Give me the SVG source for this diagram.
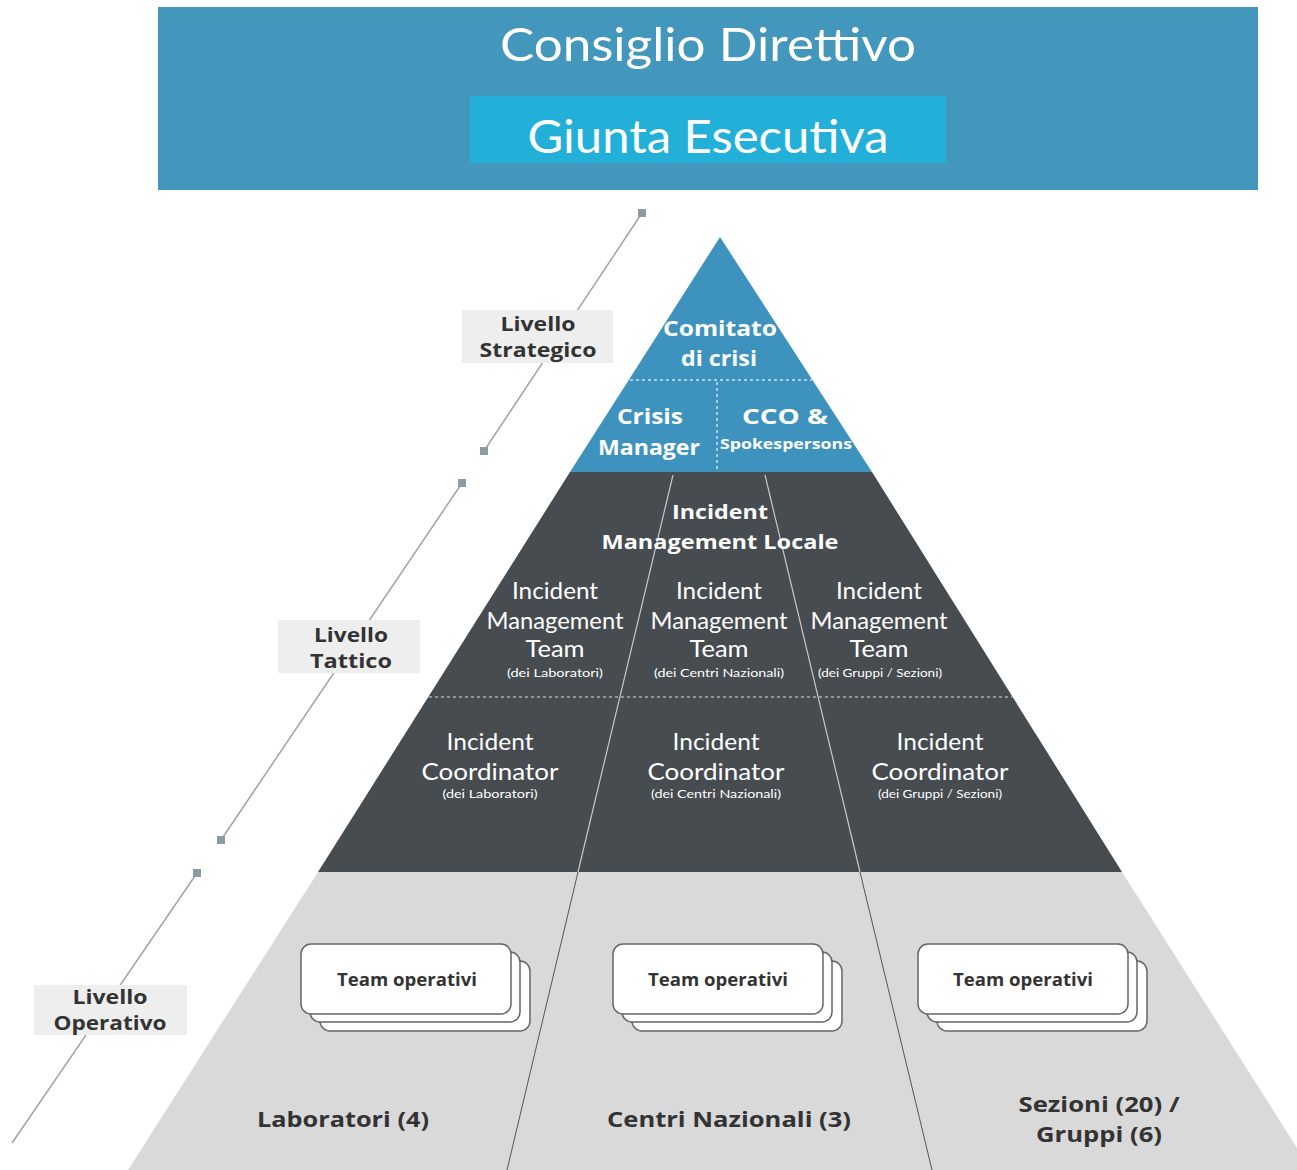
<svg xmlns="http://www.w3.org/2000/svg" width="1297" height="1170" viewBox="0 0 1297 1170">
<defs>
<style>
.w{fill:#ffffff;font-family:Lato,"Open Sans","DejaVu Sans",sans-serif;text-anchor:middle}
.b{font-family:"Open Sans",Lato,"DejaVu Sans",sans-serif;font-weight:bold}
.d{fill:#333333;font-family:"Open Sans",Lato,"DejaVu Sans",sans-serif;text-anchor:middle;font-weight:bold}
.lvl{fill:#eeeeee}
.sq{fill:#8a9ba3}
.card{fill:#ffffff;stroke:#666666;stroke-width:1.5}
.dash{stroke:#c9e3ef;stroke-width:1.5;stroke-dasharray:3 3;fill:none}
.dashd{stroke:#a8adb0;stroke-width:1.5;stroke-dasharray:3 3;fill:none}
</style>
</defs>
<rect width="1297" height="1170" fill="#ffffff"/>
<g id="header">
<rect x="158" y="7" width="1100" height="183" fill="#4396bc"/>
<text class="w" x="708" y="61" font-size="46" textLength="416" lengthAdjust="spacingAndGlyphs">Consiglio Direttivo</text>
</g>
<g id="giunta">
<rect x="470" y="96" width="476" height="67" fill="#22b0d8"/>
<text class="w" x="708" y="153" font-size="47" textLength="361" lengthAdjust="spacingAndGlyphs">Giunta Esecutiva</text>
</g>
<g id="pyramid">
<polygon points="720,237 570,472 872,472" fill="#3d93bd"/>
<polygon points="570,472 872,472 1122,872 318,872" fill="#464c50"/>
<polygon points="318,872 1122,872 1311,1170 128,1170" fill="#d9d9d9"/>
<line class="dash" x1="630" y1="380" x2="812" y2="380"/>
<line class="dash" x1="717" y1="382" x2="717" y2="472"/>
<line class="dashd" x1="429" y1="697" x2="1012" y2="697"/>
</g>
<g id="connectors">
<line x1="673" y1="475" x2="578" y2="872" stroke="#c8c8c8" stroke-width="1.2"/>
<line x1="765" y1="475" x2="860" y2="872" stroke="#c8c8c8" stroke-width="1.2"/>
<line x1="578" y1="872" x2="507" y2="1170" stroke="#555555" stroke-width="1"/>
<line x1="860" y1="872" x2="932" y2="1170" stroke="#555555" stroke-width="1"/>
<line x1="642" y1="213" x2="484" y2="451" stroke="#9aa5aa" stroke-width="1.5"/>
<line x1="462" y1="483" x2="221" y2="840" stroke="#9aa5aa" stroke-width="1.5"/>
<line x1="197" y1="873" x2="12" y2="1143" stroke="#9aa5aa" stroke-width="1.5"/>
<rect class="sq" x="638" y="209" width="8" height="8"/>
<rect class="sq" x="480" y="447" width="8" height="8"/>
<rect class="sq" x="458" y="479" width="8" height="8"/>
<rect class="sq" x="217" y="836" width="8" height="8"/>
<rect class="sq" x="193" y="869" width="8" height="8"/>
</g>
<g id="livello-strategico">
<rect class="lvl" x="462" y="310" width="151" height="53"/>
<text class="d" x="538" y="331" font-size="20" textLength="75" lengthAdjust="spacingAndGlyphs">Livello</text>
<text class="d" x="538" y="357" font-size="20" textLength="117" lengthAdjust="spacingAndGlyphs">Strategico</text>
</g>
<g id="livello-tattico">
<rect class="lvl" x="278" y="620" width="142" height="53"/>
<text class="d" x="351" y="642" font-size="20" textLength="74" lengthAdjust="spacingAndGlyphs">Livello</text>
<text class="d" x="351" y="668" font-size="20" textLength="82" lengthAdjust="spacingAndGlyphs">Tattico</text>
</g>
<g id="livello-operativo">
<rect class="lvl" x="34" y="985" width="153" height="50"/>
<text class="d" x="110" y="1004" font-size="20" textLength="75" lengthAdjust="spacingAndGlyphs">Livello</text>
<text class="d" x="110" y="1030" font-size="20" textLength="113" lengthAdjust="spacingAndGlyphs">Operativo</text>
</g>
<g id="comitato">
<text class="w b" x="720" y="336" font-size="21" textLength="114" lengthAdjust="spacingAndGlyphs">Comitato</text>
<text class="w b" x="719" y="366" font-size="21" textLength="76" lengthAdjust="spacingAndGlyphs">di crisi</text>
</g>
<g id="crisis-manager">
<text class="w b" x="650" y="424" font-size="21" textLength="66" lengthAdjust="spacingAndGlyphs">Crisis</text>
<text class="w b" x="649" y="455" font-size="21" textLength="102" lengthAdjust="spacingAndGlyphs">Manager</text>
</g>
<g id="cco">
<text class="w b" x="785" y="424" font-size="22" textLength="86" lengthAdjust="spacingAndGlyphs">CCO &amp;</text>
<text class="w b" x="786" y="449" font-size="15" textLength="132" lengthAdjust="spacingAndGlyphs">Spokespersons</text>
</g>
<g id="iml">
<text class="w b" x="720" y="519" font-size="20" textLength="96" lengthAdjust="spacingAndGlyphs">Incident</text>
<text class="w b" x="720" y="549" font-size="20" textLength="237" lengthAdjust="spacingAndGlyphs">Management Locale</text>
</g>
<g id="imt-lab">
<text class="w" x="555" y="599" font-size="23" textLength="86" lengthAdjust="spacingAndGlyphs">Incident</text>
<text class="w" x="555" y="629" font-size="23" textLength="137" lengthAdjust="spacingAndGlyphs">Management</text>
<text class="w" x="555" y="657" font-size="23" textLength="59" lengthAdjust="spacingAndGlyphs">Team</text>
<text class="w" x="555" y="677" font-size="11" textLength="96" lengthAdjust="spacingAndGlyphs">(dei Laboratori)</text>
</g>
<g id="imt-cn">
<text class="w" x="719" y="599" font-size="23" textLength="86" lengthAdjust="spacingAndGlyphs">Incident</text>
<text class="w" x="719" y="629" font-size="23" textLength="137" lengthAdjust="spacingAndGlyphs">Management</text>
<text class="w" x="719" y="657" font-size="23" textLength="59" lengthAdjust="spacingAndGlyphs">Team</text>
<text class="w" x="719" y="677" font-size="11" textLength="130" lengthAdjust="spacingAndGlyphs">(dei Centri Nazionali)</text>
</g>
<g id="imt-gs">
<text class="w" x="879" y="599" font-size="23" textLength="86" lengthAdjust="spacingAndGlyphs">Incident</text>
<text class="w" x="879" y="629" font-size="23" textLength="137" lengthAdjust="spacingAndGlyphs">Management</text>
<text class="w" x="879" y="657" font-size="23" textLength="59" lengthAdjust="spacingAndGlyphs">Team</text>
<text class="w" x="880" y="677" font-size="11" textLength="124" lengthAdjust="spacingAndGlyphs">(dei Gruppi / Sezioni)</text>
</g>
<g id="ic-lab">
<text class="w" x="490" y="750" font-size="23" textLength="87" lengthAdjust="spacingAndGlyphs">Incident</text>
<text class="w" x="490" y="780" font-size="23" textLength="137" lengthAdjust="spacingAndGlyphs">Coordinator</text>
<text class="w" x="490" y="798" font-size="11" textLength="95" lengthAdjust="spacingAndGlyphs">(dei Laboratori)</text>
</g>
<g id="ic-cn">
<text class="w" x="716" y="750" font-size="23" textLength="87" lengthAdjust="spacingAndGlyphs">Incident</text>
<text class="w" x="716" y="780" font-size="23" textLength="137" lengthAdjust="spacingAndGlyphs">Coordinator</text>
<text class="w" x="716" y="798" font-size="11" textLength="130" lengthAdjust="spacingAndGlyphs">(dei Centri Nazionali)</text>
</g>
<g id="ic-gs">
<text class="w" x="940" y="750" font-size="23" textLength="87" lengthAdjust="spacingAndGlyphs">Incident</text>
<text class="w" x="940" y="780" font-size="23" textLength="137" lengthAdjust="spacingAndGlyphs">Coordinator</text>
<text class="w" x="940" y="798" font-size="11" textLength="124" lengthAdjust="spacingAndGlyphs">(dei Gruppi / Sezioni)</text>
</g>
<g id="team-lab">
<rect class="card" x="320" y="961" width="210" height="70" rx="10"/>
<rect class="card" x="310" y="952" width="210" height="70" rx="10"/>
<rect class="card" x="301" y="944" width="210" height="70" rx="10"/>
<text class="d" x="407" y="986" font-size="17" textLength="140" lengthAdjust="spacingAndGlyphs">Team operativi</text>
</g>
<g id="team-cn">
<rect class="card" x="632" y="961" width="210" height="70" rx="10"/>
<rect class="card" x="622" y="952" width="210" height="70" rx="10"/>
<rect class="card" x="613" y="944" width="210" height="70" rx="10"/>
<text class="d" x="718" y="986" font-size="17" textLength="140" lengthAdjust="spacingAndGlyphs">Team operativi</text>
</g>
<g id="team-gs">
<rect class="card" x="937" y="961" width="210" height="70" rx="10"/>
<rect class="card" x="927" y="952" width="210" height="70" rx="10"/>
<rect class="card" x="918" y="944" width="210" height="70" rx="10"/>
<text class="d" x="1023" y="986" font-size="17" textLength="140" lengthAdjust="spacingAndGlyphs">Team operativi</text>
</g>
<g id="lab">
<text class="d" x="343" y="1127" font-size="21" textLength="172" lengthAdjust="spacingAndGlyphs">Laboratori (4)</text>
</g>
<g id="cn">
<text class="d" x="729" y="1127" font-size="21" textLength="244" lengthAdjust="spacingAndGlyphs">Centri Nazionali (3)</text>
</g>
<g id="gs">
<text class="d" x="1099" y="1112" font-size="21" textLength="161" lengthAdjust="spacingAndGlyphs">Sezioni (20) /</text>
<text class="d" x="1099" y="1142" font-size="21" textLength="126" lengthAdjust="spacingAndGlyphs">Gruppi (6)</text>
</g>
</svg>
